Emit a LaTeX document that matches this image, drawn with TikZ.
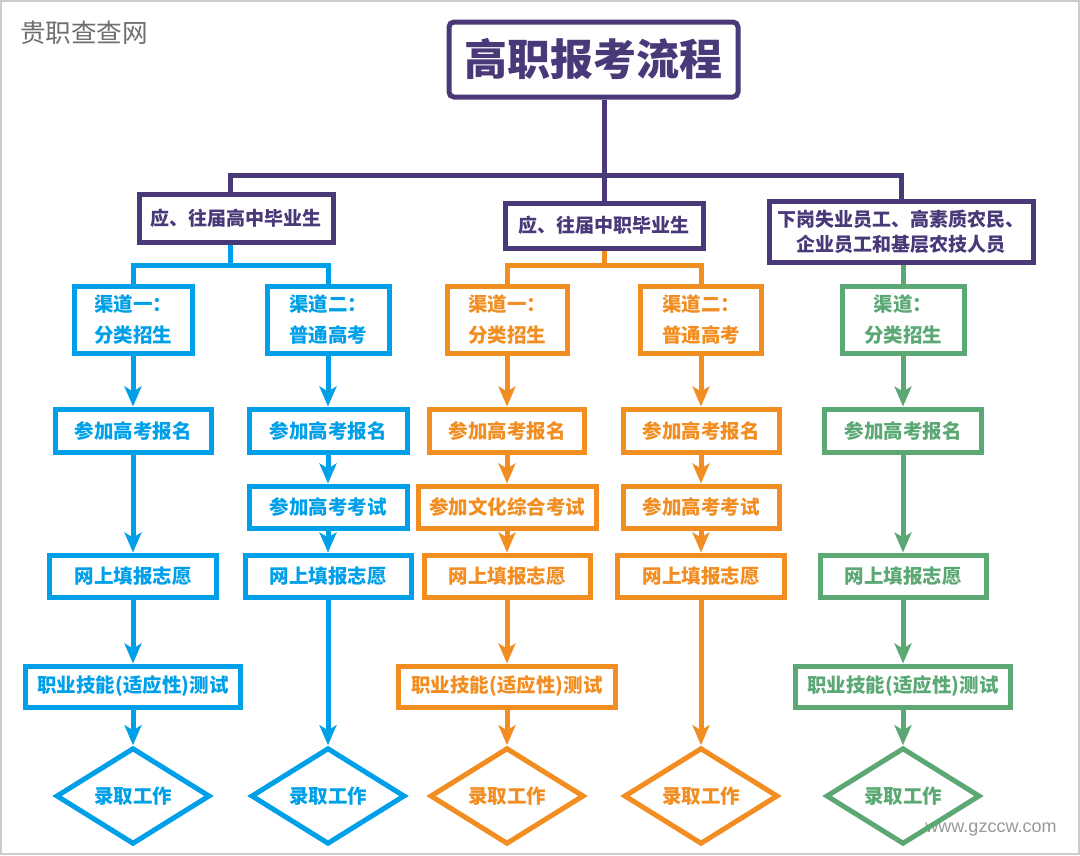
\documentclass[tikz,border=0pt]{standalone}
\usepackage{fontspec}
\newfontfamily\cjk{Noto Sans CJK SC}
\newfontfamily\latinsans{Liberation Sans}
\usetikzlibrary{arrows.meta,shapes.geometric}

\definecolor{cpurple}{RGB}{74,57,121}
\definecolor{cblue}{RGB}{0,160,233}
\definecolor{corange}{RGB}{241,141,33}
\definecolor{cgreen}{RGB}{91,168,117}
\definecolor{cgray}{RGB}{110,110,110}

\tikzset{
  box/.style={draw, line width=5pt, inner sep=0pt, minimum height=43pt,
    align=center, font={\cjk\bfseries\fontsize{19.5}{31}\selectfont}},
  chan/.style={box, minimum height=67pt},
  admit/.style={diamond, draw, line width=5pt, inner sep=0pt,
    minimum width=154pt, minimum height=78pt,
    font={\cjk\bfseries\fontsize{19.5}{24}\selectfont}},
  purplepart/.style={draw=cpurple, text=cpurple},
  bluepart/.style={draw=cblue, text=cblue},
  orangepart/.style={draw=corange, text=corange},
  greenpart/.style={draw=cgreen, text=cgreen},
  link/.style={line width=5pt},
  flow/.style={line width=5pt, -{Stealth[length=20pt,width=17pt,inset=5pt]}},
}

\begin{document}
\begin{tikzpicture}[x=1pt,y=-1pt]
  \useasboundingbox (0,0) rectangle (1080,855);
  \draw[line width=2pt, black!20] (1,1) rectangle (1079,854);

  %% Watermarks.
  \node[text=cgray, font={\cjk\fontsize{25.6}{26}\selectfont}] (mark) at (84,33) {贵职查查网};
  \node[text=black!40, font={\latinsans\fontsize{18}{18}\selectfont}] (site) at (991,830) {www.gzccw.com};

  %% Title and the three groups.
  \node[box, purplepart, rounded corners=5pt, minimum width=289pt, minimum height=75pt,
    font={\cjk\bfseries\fontsize{43}{43}\selectfont}] (title) at (593.5,59.5) {高职报考流程};
  \node[box, purplepart, minimum width=194pt, minimum height=48pt,
    font={\cjk\bfseries\fontsize{19}{25}\selectfont}] (grpA) at (236,218) {应、往届高中毕业生};
  \node[box, purplepart, minimum width=198pt, minimum height=45pt,
    font={\cjk\bfseries\fontsize{19}{25}\selectfont}] (grpB) at (604,225.5) {应、往届中职毕业生};
  \node[box, purplepart, minimum width=264pt, minimum height=61pt,
    font={\cjk\bfseries\fontsize{19}{25}\selectfont}] (grpC) at (901,231.5) {下岗失业员工、高素质农民、\\企业员工和基层农技人员};

  \coordinate (bus) at (604,175);
  \draw[link, cpurple] (grpB.north |- title.south) -- (grpB.north);
  \draw[link, cpurple] ([xshift=-6pt]grpA.north) |- (bus) -| (grpC.north);

  %% Blue columns.
  \node[chan, bluepart, minimum width=118pt] (b1ch) at (133,319.5) {渠道一：\\分类招生};
  \node[chan, bluepart, minimum width=122pt] (b2ch) at (328,319.5) {渠道二：\\普通高考};
  \node[box, bluepart, minimum width=156pt] (b1reg) at (133,430.5) {参加高考报名};
  \node[box, bluepart, minimum width=158pt] (b2reg) at (328,430.5) {参加高考报名};
  \node[box, bluepart, minimum width=158pt, minimum height=42pt] (b2exam) at (328,507) {参加高考考试};
  \node[box, bluepart, minimum width=167pt, minimum height=42pt] (b1fill) at (133,576) {网上填报志愿};
  \node[box, bluepart, minimum width=166pt, minimum height=42pt] (b2fill) at (328,576) {网上填报志愿};
  \node[box, bluepart, minimum width=215pt, minimum height=41pt] (b1test) at (133,686.5) {职业技能(适应性)测试};

  \coordinate (bluebus) at (230,265);
  \draw[link, cblue] ([xshift=-6pt]grpA.south) -- (bluebus);
  \draw[link, cblue] (b1ch.north) |- (bluebus) -| (b2ch.north);

  %% Orange columns.
  \node[chan, orangepart, minimum width=120pt] (o1ch) at (507,319.5) {渠道一：\\分类招生};
  \node[chan, orangepart, minimum width=121pt] (o2ch) at (701,319.5) {渠道二：\\普通高考};
  \node[box, orangepart, minimum width=155pt] (o1reg) at (507,430.5) {参加高考报名};
  \node[box, orangepart, minimum width=156pt] (o2reg) at (701,430.5) {参加高考报名};
  \node[box, orangepart, minimum width=178pt, minimum height=42pt] (o1exam) at (507,507) {参加文化综合考试};
  \node[box, orangepart, minimum width=156pt, minimum height=42pt] (o2exam) at (701,507) {参加高考考试};
  \node[box, orangepart, minimum width=166pt, minimum height=42pt] (o1fill) at (507,576) {网上填报志愿};
  \node[box, orangepart, minimum width=167pt, minimum height=42pt] (o2fill) at (701,576) {网上填报志愿};
  \node[box, orangepart, minimum width=217pt, minimum height=41pt] (o1test) at (507,686.5) {职业技能(适应性)测试};

  \coordinate (orangebus) at (604,265);
  \draw[link, corange] (grpB.south) -- (orangebus);
  \draw[link, corange] (o1ch.north) |- (orangebus) -| (o2ch.north);

  %% Green column.
  \node[chan, greenpart, minimum width=122pt] (g1ch) at (903,319.5) {渠道：\\分类招生};
  \node[box, greenpart, minimum width=157pt] (g1reg) at (903,430.5) {参加高考报名};
  \node[box, greenpart, minimum width=166pt, minimum height=42pt] (g1fill) at (903,576) {网上填报志愿};
  \node[box, greenpart, minimum width=215pt, minimum height=41pt] (g1test) at (903,686.5) {职业技能(适应性)测试};

  \draw[link, cgreen] (g1ch.north |- grpC.south) -- (g1ch.north);

  %% Admission diamonds.
  \foreach \col/\x/\part in {b1/133/bluepart,b2/328/bluepart,o1/507/orangepart,o2/701/orangepart,g1/903/greenpart} {
    \node[admit, \part] (\col adm) at (\x,796) {录取工作};
  }

  %% Arrows down each column.
  \foreach \from/\to in {b1ch/b1reg,b1reg/b1fill,b1fill/b1test,b1test/b1adm,
      b2ch/b2reg,b2reg/b2exam,b2exam/b2fill,b2fill/b2adm} {
    \draw[flow, cblue] (\from) -- (\to);
  }
  \foreach \from/\to in {o1ch/o1reg,o1reg/o1exam,o1exam/o1fill,o1fill/o1test,o1test/o1adm,
      o2ch/o2reg,o2reg/o2exam,o2exam/o2fill,o2fill/o2adm} {
    \draw[flow, corange] (\from) -- (\to);
  }
  \foreach \from/\to in {g1ch/g1reg,g1reg/g1fill,g1fill/g1test,g1test/g1adm} {
    \draw[flow, cgreen] (\from) -- (\to);
  }
\end{tikzpicture}
\end{document}
